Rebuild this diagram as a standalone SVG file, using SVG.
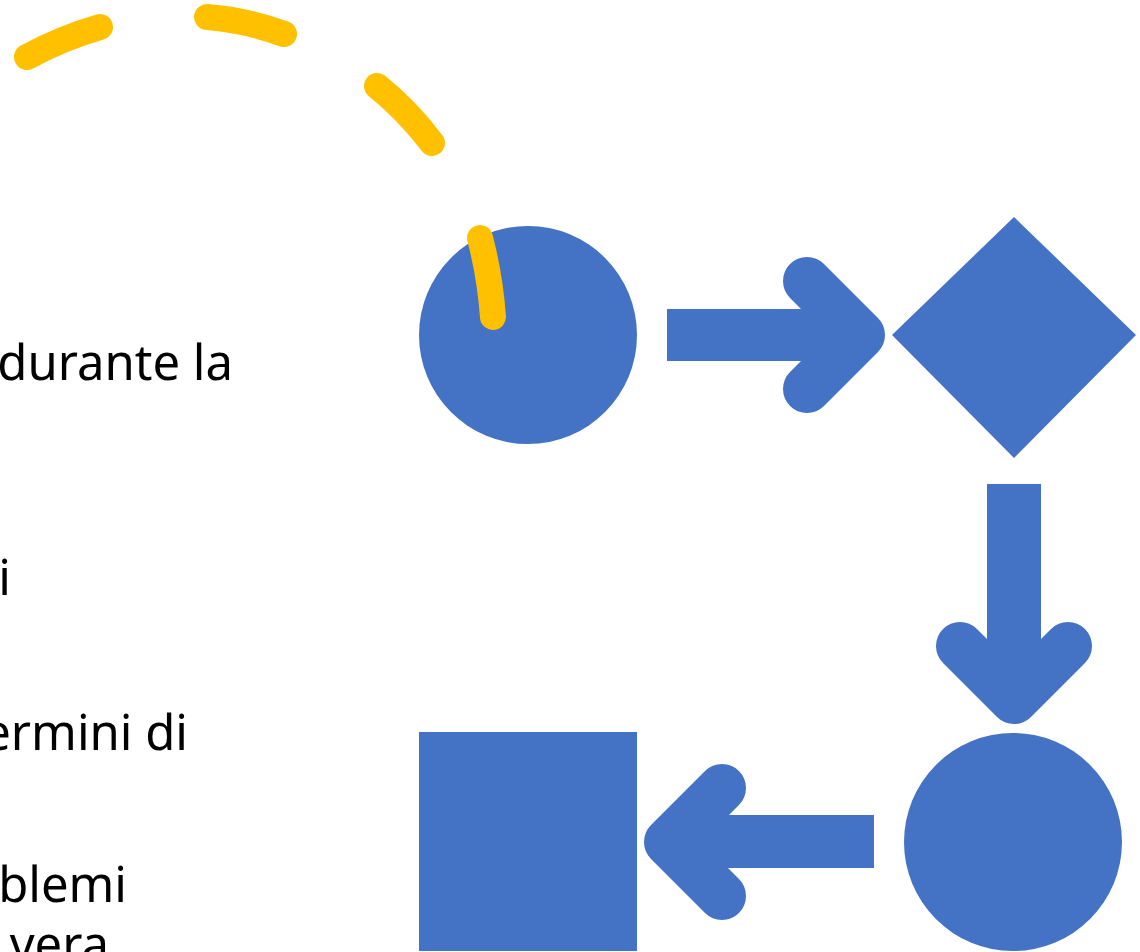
<svg xmlns="http://www.w3.org/2000/svg" width="1140" height="952" viewBox="0 0 1140 952">
<style>
.shape{fill:#4472C4}
.shaft{fill:#4472C4}
.head{fill:none;stroke:#4472C4;stroke-width:48;stroke-linecap:round;stroke-linejoin:round}
.dash{fill:none;stroke:#FFC000;stroke-width:26;stroke-linecap:round}
.txt{font-family:"Noto Sans","Open Sans",sans-serif;font-size:49px;fill:#000;text-anchor:end}
</style>
<rect width="1140" height="952" fill="#fff"/>
<g id="text">
<text class="txt" x="233" y="380">durante la</text>
<text class="txt" x="11" y="595">i</text>
<text class="txt" x="188" y="750">ermini di</text>
<text class="txt" x="127" y="902">blemi</text>
<text class="txt" x="109" y="962">vera</text>
</g>
<g id="circle1"><circle class="shape" cx="528" cy="335" r="109"/></g>
<g id="diamond"><polygon class="shape" points="1014,217 1136,335 1014,458 892,335"/></g>
<g id="circle2"><circle class="shape" cx="1013" cy="842" r="109"/></g>
<g id="square"><rect class="shape" x="419" y="732" width="218" height="219"/></g>
<g id="connectors">
<g id="arrow-right">
<rect class="shaft" x="667" y="309" width="170" height="52"/>
<polyline class="head" points="807,281 861,335 807,389"/>
</g>
<g id="arrow-down">
<rect class="shaft" x="987" y="484" width="54" height="196"/>
<polyline class="head" points="960,646 1014,700 1068,646"/>
</g>
<g id="arrow-left">
<rect class="shaft" x="690" y="815" width="184" height="53"/>
<polyline class="head" points="722,788 668,842 722,896"/>
</g>
<g id="dashed-arc">
<path class="dash" d="M27,57 Q62,38 100,27"/>
<path class="dash" d="M207,17 Q246,20 284,34"/>
<path class="dash" d="M377,86 Q407,110 432,143"/>
<path class="dash" d="M480,238 Q490,276 493,317"/>
</g>
</g>
</svg>
